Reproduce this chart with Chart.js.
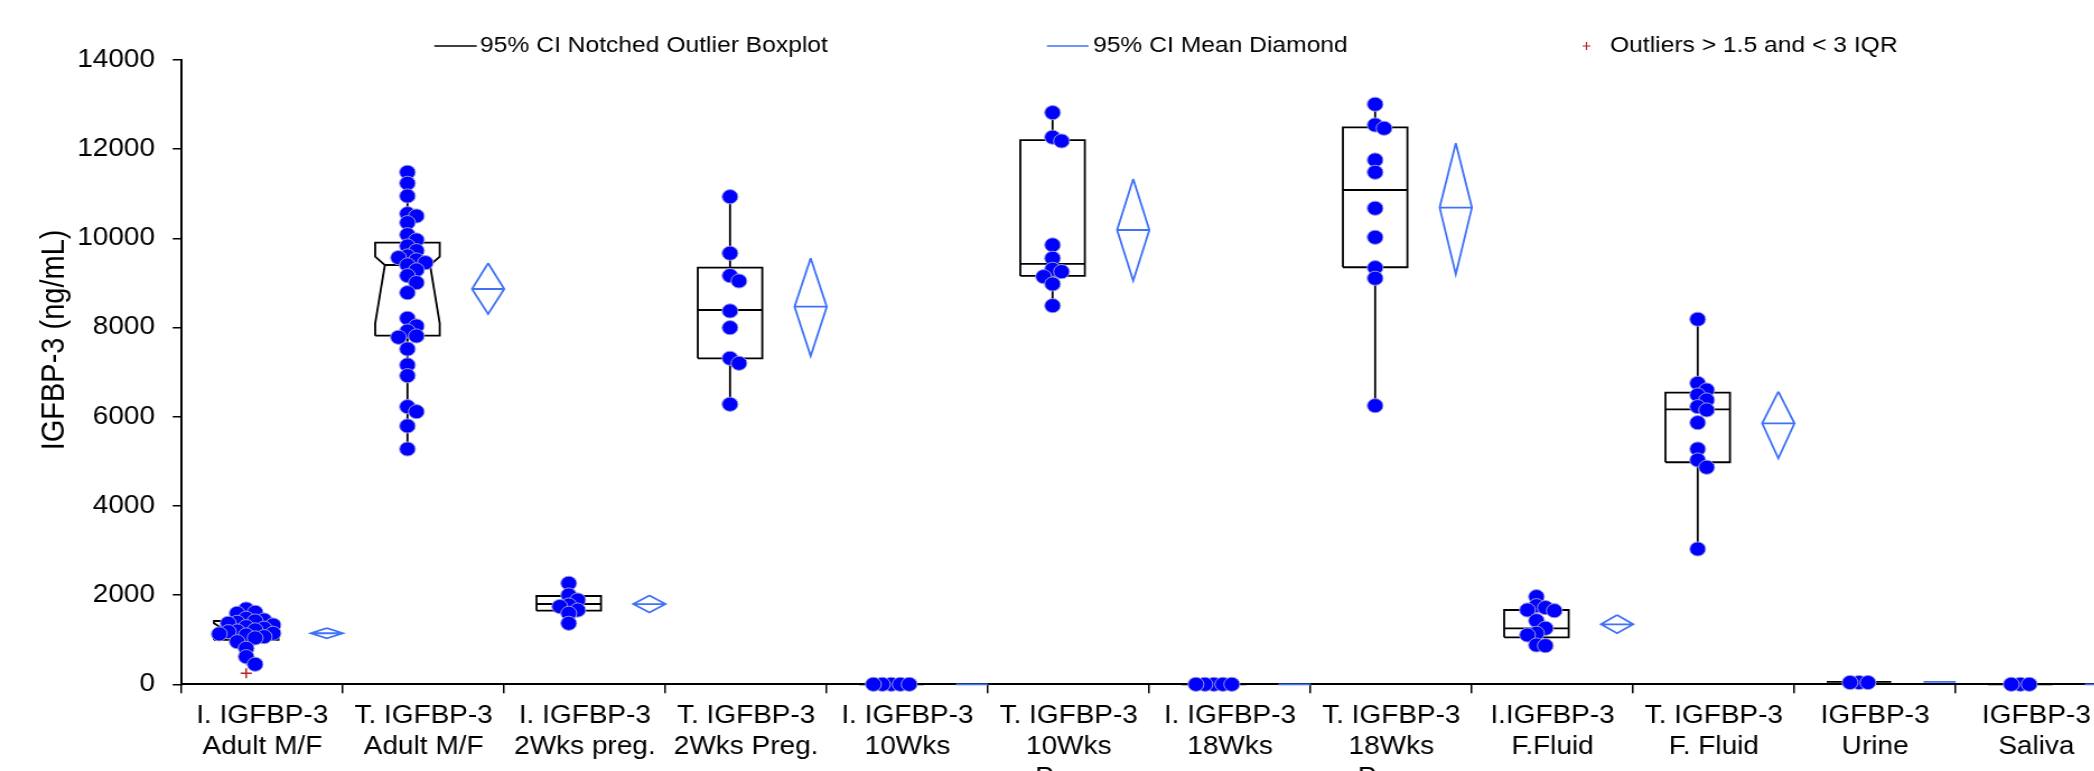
<!DOCTYPE html>
<html>
<head>
<meta charset="utf-8">
<script src="https://cdn.jsdelivr.net/npm/chart.js@4/dist/chart.umd.min.js"></script>
<style>
  html, body { margin: 0; padding: 0; background: #fff; overflow: hidden; width: 2094px; height: 771px; }
  /* the source figure is stretched ~12% horizontally */
  #wrap { position: absolute; left: 0; top: 0; width: 1900px; height: 800px; transform: scaleX(1.12); transform-origin: 0 0; }
</style>
</head>
<body>
<div id="wrap"><canvas id="chart" width="1900" height="800"></canvas></div>
<script>
const FONT = "'Liberation Sans', Arial, sans-serif";

// categories (x axis)
const categories = [
  ['I. IGFBP-3', 'Adult M/F'],
  ['T. IGFBP-3', 'Adult M/F'],
  ['I. IGFBP-3', '2Wks preg.'],
  ['T. IGFBP-3', '2Wks Preg.'],
  ['I. IGFBP-3', '10Wks'],
  ['T. IGFBP-3', '10Wks', 'Preg.'],
  ['I. IGFBP-3', '18Wks'],
  ['T. IGFBP-3', '18Wks', 'Preg.'],
  ['I.IGFBP-3', 'F.Fluid'],
  ['T. IGFBP-3', 'F. Fluid'],
  ['IGFBP-3', 'Urine'],
  ['IGFBP-3', 'Saliva']
];

// individual values (ng/mL)
const iAdult = [1689, 1615, 1592, 1480, 1442, 1420, 1390, 1368, 1330, 1292, 1256, 1220, 1195, 1180, 1144, 1130, 1106, 1068, 1040, 955, 807, 619, 449];
const tAdult = [11482, 11235, 10951, 10554, 10502, 10352, 10083, 9964, 9830, 9724, 9605, 9568, 9516, 9455, 9404, 9292, 9164, 9007, 8782, 8208, 8035, 7923, 7811, 7782, 7520, 7161, 6921, 6226, 6114, 5793, 5277];
const i2Wks = [2265, 2003, 1890, 1778, 1744, 1665, 1592, 1368];
const t2Wks = [10935, 9666, 9164, 9044, 8372, 7998, 7311, 7199, 6279];
const i10Wks = [0, 0, 0, 0, 0];
const t10Wks = [12820, 12268, 12184, 9852, 9554, 9307, 9254, 9142, 8977, 8491];
const i18Wks = [0, 0, 0, 0, 0];
const t18Wks = [13007, 12543, 12469, 11758, 11482, 10675, 10024, 9343, 9105, 6248];
const iFluid = [1965, 1763, 1720, 1666, 1651, 1427, 1256, 1144, 1106, 881, 866];
const tFluid = [8186, 6750, 6600, 6488, 6376, 6226, 6152, 5867, 5277, 5030, 4867, 3034];
const urine = [40, 40, 40];
const saliva = [0, 0, 0];

// boxplot statistics per category
const q1 = [994, 7818, 1651, 7311, 0, 9157, 0, 9352, 1054, 4979, 55, 0];
const median = [1233, 9403, 1801, 8394, 0, 9426, 0, 11085, 1256, 6167, 55, 0];
const q3 = [1420, 9903, 1980, 9343, 0, 12205, 0, 12491, 1666, 6540, 55, 0];
const whiskerLow = [449, 5293, 1381, 6264, 0, 8506, 0, 6264, 843, 3028, 55, 0];
const whiskerHigh = [1689, 11482, 2265, 10935, 0, 12842, 0, 13066, 2003, 8222, 55, 0];
const notchLow = [1090, 8096, null, null, null, null, null, null, null, null, null, null];
const notchHigh = [1368, 9590, null, null, null, null, null, null, null, null, null, null];

// outliers (> 1.5 and < 3 IQR)
const outlierCategory = [0];
const outlierValues = [247];

// 95% CI mean diamonds
const means = [1145, 8865, 1800, 8468, 0, 10188, 0, 10690, 1345, 5853, 55, 0];
const ciLow = [1030, 8304, 1610, 7363, 0, 9052, 0, 9195, 1144, 5068, 55, 0];
const ciHigh = [1260, 9441, 1990, 9554, 0, 11332, 0, 12133, 1554, 6562, 55, 0];

// y axis
const yMin = 0, yMax = 14000, yStep = 2000;

const legendLabels = ['95% CI Notched Outlier Boxplot', '95% CI Mean Diamond', 'Outliers > 1.5 and < 3 IQR'];

const groups = [iAdult, tAdult, i2Wks, t2Wks, i10Wks, t10Wks, i18Wks, t18Wks, iFluid, tFluid, urine, saliva];

// placement inside each category band (band = 1 unit on the hidden 'xv' axis)
const BOX_POS = 0.40, BOX_HALF = 0.2, NOTCH_IN = 0.06;
const DIAMOND_POS = 0.90, DIAMOND_HALF = 0.1;
const SWARM_STEP = 8, SWARM_GAP = 8;

const BLUE = '#3f72f7';
const OUTLIER_RED = '#b3262b';

function pts(list) {
  // list of [x, y] or null (gap)
  return list.map(p => p ? { x: p[0], y: p[1] } : { x: 0, y: null });
}

function boxData(i) {
  const c = i + BOX_POS, w = BOX_HALF, n = NOTCH_IN;
  let outline, medLine;
  if (notchLow[i] != null) {
    outline = [[c - w, q1[i]], [c + w, q1[i]], [c + w, notchLow[i]], [c + w - n, median[i]], [c + w, notchHigh[i]],
      [c + w, q3[i]], [c - w, q3[i]], [c - w, notchHigh[i]], [c - w + n, median[i]], [c - w, notchLow[i]], [c - w, q1[i]]];
    medLine = [[c - w + n, median[i]], [c + w - n, median[i]]];
  } else {
    outline = [[c - w, q1[i]], [c + w, q1[i]], [c + w, q3[i]], [c - w, q3[i]], [c - w, q1[i]]];
    medLine = [[c - w, median[i]], [c + w, median[i]]];
  }
  return pts([...outline, null, ...medLine, null,
    [c, q3[i]], [c, whiskerHigh[i]], null,
    [c, q1[i]], [c, whiskerLow[i]]]);
}

function diamondData(i) {
  const c = i + DIAMOND_POS, w = DIAMOND_HALF;
  return pts([[c, ciHigh[i]], [c + w, means[i]], [c, ciLow[i]], [c - w, means[i]], [c, ciHigh[i]], null,
    [c - w, means[i]], [c + w, means[i]]]);
}

const datasets = [];
groups.forEach((vals, i) => {
  datasets.push({
    label: 'values ' + i,
    data: vals.map(v => ({ x: i + BOX_POS, y: v })),
    xAxisID: 'xv', yAxisID: 'y',
    showLine: false,
    pointRadius: 7.1,
    pointBackgroundColor: '#0000ff',
    pointBorderColor: '#9a9ad6',
    pointBorderWidth: 1,
    clip: false,
    order: 0
  });
});

datasets.push({
  label: 'outliers',
  data: outlierValues.map((v, k) => ({ x: outlierCategory[k] + BOX_POS, y: v })),
  xAxisID: 'xv', yAxisID: 'y',
  showLine: false,
  pointStyle: 'cross',
  pointRadius: 5,
  pointBorderColor: OUTLIER_RED,
  pointBorderWidth: 1.5,
  clip: false,
  order: 1
});

categories.forEach((c, i) => {
  datasets.push({
    label: 'box ' + i,
    data: boxData(i),
    xAxisID: 'xv', yAxisID: 'y',
    showLine: true, spanGaps: false, tension: 0,
    borderColor: '#000', borderWidth: 1.8,
    pointRadius: 0, clip: false, order: 5
  });
  datasets.push({
    label: 'diamond ' + i,
    data: diamondData(i),
    xAxisID: 'xv', yAxisID: 'y',
    showLine: true, spanGaps: false, tension: 0,
    borderColor: BLUE, borderWidth: 1.8,
    pointRadius: 0, clip: false, order: 5
  });
});

// legend drawn across the top
const topLegend = {
  id: 'topLegend',
  afterDraw(chart) {
    const ctx = chart.ctx;
    const y = 46;
    ctx.save();
    ctx.font = '22px ' + FONT;
    ctx.textBaseline = 'middle';
    ctx.textAlign = 'left';
    ctx.fillStyle = '#000';

    ctx.lineWidth = 1.5;
    ctx.strokeStyle = '#000';
    ctx.beginPath(); ctx.moveTo(387.8, y); ctx.lineTo(425.6, y); ctx.stroke();
    ctx.fillText(legendLabels[0], 428.6, y);

    ctx.strokeStyle = BLUE;
    ctx.beginPath(); ctx.moveTo(934.8, y); ctx.lineTo(971.9, y); ctx.stroke();
    ctx.fillText(legendLabels[1], 975.9, y);

    ctx.strokeStyle = OUTLIER_RED;
    ctx.lineWidth = 1.2;
    ctx.beginPath();
    ctx.moveTo(1413, y); ctx.lineTo(1420, y);
    ctx.moveTo(1416.5, y - 4); ctx.lineTo(1416.5, y + 4);
    ctx.stroke();
    ctx.fillText(legendLabels[2], 1437.5, y);
    ctx.restore();
  }
};

const tickFont = { family: FONT, size: 25, lineHeight: 1.24 };

const chart = new Chart(document.getElementById('chart').getContext('2d'), {
  type: 'scatter',
  data: { labels: categories, datasets: datasets },
  options: {
    responsive: false,
    animation: false,
    devicePixelRatio: 1,
    events: [],
    layout: { padding: { left: 0, right: 9.8, top: 60, bottom: 0 } },
    plugins: {
      legend: { display: false },
      tooltip: { enabled: false }
    },
    scales: {
      x: {
        type: 'category',
        position: 'bottom',
        offset: true,
        grid: { offset: true, drawOnChartArea: false, drawTicks: true, tickLength: 9, color: '#000', lineWidth: 1.5 },
        border: { color: '#000', width: 2 },
        ticks: { color: '#000', font: tickFont, padding: 7, maxRotation: 0, autoSkip: false },
        afterFit: s => { s.height = 115.7; }
      },
      xv: { type: 'linear', display: false, min: 0, max: categories.length },
      y: {
        type: 'linear',
        position: 'left',
        min: yMin, max: yMax,
        ticks: { stepSize: yStep, color: '#000', font: tickFont, padding: 15.8, callback: v => String(v) },
        grid: { drawOnChartArea: false, tickLength: 8, color: '#000', lineWidth: 1.5 },
        border: { color: '#000', width: 2 },
        title: {
          display: true,
          text: '        IGFBP-3 (ng/mL)',
          color: '#000',
          font: { family: FONT, size: 29 },
          padding: { top: 31.3, bottom: 0 }
        },
        afterFit: s => { s.width = 162.2; }
      }
    }
  },
  plugins: [topLegend]
});

// spread the dots sideways (beeswarm) once the y scale is known
function swarmSlots(values, yScale) {
  const placed = [];
  return values.map(v => {
    const py = yScale.getPixelForValue(v);
    for (let k = 0; ; k++) {
      const slot = k === 0 ? 0 : (k % 2 ? (k + 1) / 2 : -k / 2);
      if (placed.every(p => p.slot !== slot || Math.abs(p.py - py) >= SWARM_GAP)) {
        placed.push({ slot, py });
        return slot;
      }
    }
  });
}

const xv = chart.scales.xv;
const catPx = xv.getPixelForValue(1) - xv.getPixelForValue(0);
groups.forEach((vals, i) => {
  const slots = swarmSlots(vals, chart.scales.y);
  chart.data.datasets[i].data = vals.map((v, j) => ({ x: i + BOX_POS + slots[j] * SWARM_STEP / catPx, y: v }));
});
chart.update();
</script>
</body>
</html>
